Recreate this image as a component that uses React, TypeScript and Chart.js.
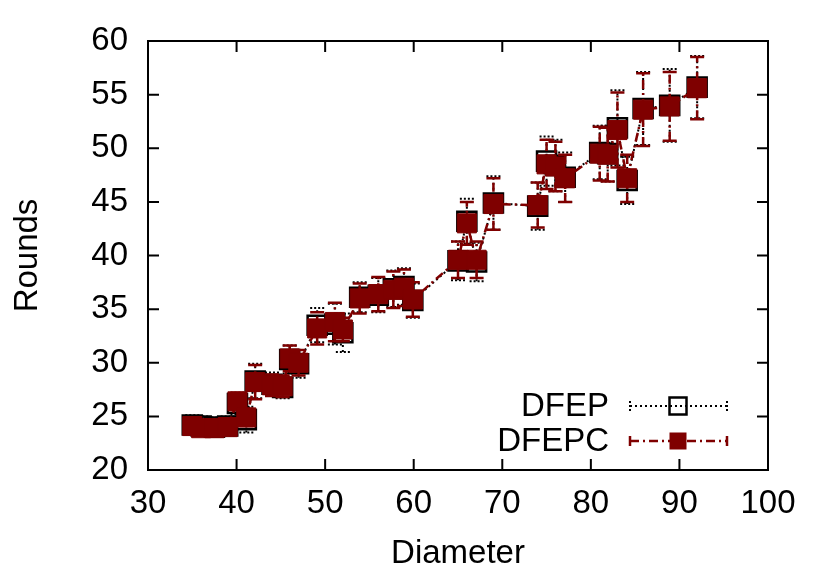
import React, { useEffect, useRef } from 'react';
import { Chart, registerables } from 'chart.js';

Chart.register(...registerables);

// ---- data ----
const diameters = [35, 36, 37.5, 39, 40.1, 41.1, 42.1, 44, 45.2, 46, 47, 49.1, 51.1, 52, 53.9, 56, 57.7, 58.9, 59.9, 65, 66, 67.1, 69, 74, 75, 76, 77.1, 81, 81.9, 83, 84.1, 85.9, 88.9, 92];

const dfepRounds = [24.2, 24.1, 24.0, 24.1, 26.2, 24.7, 28.3, 28.0, 27.7, 30.3, 29.9, 33.5, 33.6, 32.8, 36.1, 36.3, 36.9, 37.1, 35.8, 39.5, 43.2, 39.4, 44.9, 44.6, 48.8, 48.4, 47.3, 49.6, 49.5, 51.9, 47.0, 53.7, 54.0, 55.7];
const dfepErr = [0.9, 0.9, 0.9, 0.9, 1.0, 1.2, 1.6, 1.1, 1.0, 1.3, 1.3, 1.6, 1.9, 1.8, 1.4, 1.6, 1.7, 1.7, 1.6, 1.8, 2.1, 1.8, 2.5, 2.2, 2.3, 2.4, 2.3, 2.5, 2.6, 3.5, 2.2, 3.4, 3.4, 2.9];

const dfepcRounds = [24.1, 23.9, 23.9, 24.0, 26.4, 24.9, 28.2, 27.9, 27.8, 30.4, 30.0, 33.2, 33.8, 33.1, 36.0, 36.4, 36.8, 37.0, 35.9, 39.6, 43.0, 39.6, 44.8, 44.7, 48.5, 48.3, 47.2, 49.5, 49.4, 51.7, 47.2, 53.6, 53.9, 55.6];
const dfepcErr = [0.6, 0.5, 0.5, 0.6, 0.8, 0.8, 1.6, 1.0, 1.0, 1.2, 1.2, 1.5, 1.8, 1.1, 1.4, 1.6, 1.7, 1.7, 1.6, 1.7, 2.0, 1.7, 2.4, 2.1, 2.3, 2.3, 2.2, 2.5, 2.5, 3.5, 2.2, 3.4, 3.2, 2.9];

const xTicks = [30, 40, 50, 60, 70, 80, 90, 100];
const yTicks = [20, 25, 30, 35, 40, 45, 50, 55, 60];

const seriesLabels = ['DFEP', 'DFEPC'];

// ---- styles ----
const DARK_RED = '#7f0000';
const FONT = "'Liberation Sans', Arial, Helvetica, sans-serif";
const FONT_SIZE = 33;

type SeriesStyle = {
  color: string;
  lineDash: number[];
  lineWidth: number;
  filled: boolean;
};

const styles: Record<string, SeriesStyle> = {
  DFEP: { color: '#000000', lineDash: [2, 3], lineWidth: 2, filled: false },
  DFEPC: { color: DARK_RED, lineDash: [9, 4, 2, 4], lineWidth: 2.5, filled: true },
};

const errorsByLabel: Record<string, number[]> = {
  DFEP: dfepErr,
  DFEPC: dfepcErr,
};

const CAP = 7;

const errorBarPlugin = {
  id: 'errorBars',
  beforeDatasetDraw(chart: any, args: any) {
    const ds = chart.data.datasets[args.index];
    const errs = errorsByLabel[ds.label];
    const st = styles[ds.label];
    if (!errs || !st) return;
    const xs = chart.scales.x;
    const ys = chart.scales.y;
    const ctx = chart.ctx;
    ctx.save();
    ctx.strokeStyle = st.color;
    ctx.lineWidth = st.lineWidth;
    ds.data.forEach((p: any, i: number) => {
      const px = xs.getPixelForValue(p.x);
      const yl = ys.getPixelForValue(p.y - errs[i]);
      const yh = ys.getPixelForValue(p.y + errs[i]);
      ctx.setLineDash(st.lineDash);
      ctx.beginPath();
      ctx.moveTo(px, yl);
      ctx.lineTo(px, yh);
      ctx.stroke();
      ctx.setLineDash(st.filled ? [] : [2, 2]);
      ctx.beginPath();
      ctx.moveTo(px - CAP, yl);
      ctx.lineTo(px + CAP, yl);
      ctx.moveTo(px - CAP, yh);
      ctx.lineTo(px + CAP, yh);
      ctx.stroke();
    });
    ctx.restore();
  },
};

const framePlugin = {
  id: 'frame',
  beforeDatasetsDraw(chart: any) {
    const { ctx, chartArea: a } = chart;
    const xs = chart.scales.x;
    const ys = chart.scales.y;
    const T = 11;
    ctx.save();
    ctx.strokeStyle = '#000';
    ctx.lineWidth = 2;
    ctx.setLineDash([]);
    ctx.strokeRect(a.left, a.top, a.right - a.left, a.bottom - a.top);
    ctx.beginPath();
    xTicks.forEach((v) => {
      const px = xs.getPixelForValue(v);
      ctx.moveTo(px, a.bottom);
      ctx.lineTo(px, a.bottom - T);
      ctx.moveTo(px, a.top);
      ctx.lineTo(px, a.top + T);
    });
    yTicks.forEach((v) => {
      const py = ys.getPixelForValue(v);
      ctx.moveTo(a.left, py);
      ctx.lineTo(a.left + T, py);
      ctx.moveTo(a.right, py);
      ctx.lineTo(a.right - T, py);
    });
    ctx.stroke();
    ctx.restore();
  },
};

const legendPlugin = {
  id: 'gnuLegend',
  afterDraw(chart: any) {
    const ctx = chart.ctx;
    const textRight = 609;
    const x0 = 630;
    const x1 = 727;
    const xm = 678;
    const rows = [406, 441];
    ctx.save();
    ctx.font = `${FONT_SIZE}px ${FONT}`;
    ctx.textAlign = 'right';
    ctx.textBaseline = 'middle';
    seriesLabels.forEach((label, i) => {
      const st = styles[label];
      const y = rows[i];
      ctx.fillStyle = '#000';
      ctx.fillText(label, textRight, y + 1);
      ctx.strokeStyle = st.color;
      ctx.lineWidth = st.lineWidth;
      ctx.setLineDash(st.lineDash);
      ctx.beginPath();
      ctx.moveTo(x0, y);
      ctx.lineTo(x1, y);
      ctx.stroke();
      ctx.setLineDash(st.filled ? [] : [2, 2]);
      ctx.beginPath();
      ctx.moveTo(x0, y - 5);
      ctx.lineTo(x0, y + 5);
      ctx.moveTo(x1, y - 5);
      ctx.lineTo(x1, y + 5);
      ctx.stroke();
      ctx.setLineDash([]);
      const s = 17;
      if (st.filled) {
        ctx.fillStyle = st.color;
        ctx.fillRect(xm - s / 2, y - s / 2, s, s);
      } else {
        ctx.lineWidth = 2.5;
        ctx.strokeRect(xm - s / 2, y - s / 2, s, s);
      }
    });
    ctx.restore();
  },
};

export default function App() {
  const canvasRef = useRef<HTMLCanvasElement | null>(null);

  useEffect(() => {
    document.body.style.margin = '0';
    const canvas = canvasRef.current;
    if (!canvas) return;

    const makeData = (ys: number[]) => diameters.map((x, i) => ({ x, y: ys[i] }));

    const chart = new Chart(canvas, {
      type: 'scatter',
      data: {
        datasets: [
          {
            label: 'DFEP',
            data: makeData(dfepRounds),
            showLine: true,
            borderColor: styles.DFEP.color,
            borderWidth: styles.DFEP.lineWidth,
            borderDash: styles.DFEP.lineDash,
            pointStyle: 'rect',
            pointRadius: 13.5,
            pointBorderWidth: 2.5,
            pointBorderColor: '#000',
            pointBackgroundColor: 'rgba(0,0,0,0)',
            order: 2,
          } as any,
          {
            label: 'DFEPC',
            data: makeData(dfepcRounds),
            showLine: true,
            borderColor: styles.DFEPC.color,
            borderWidth: styles.DFEPC.lineWidth,
            borderDash: styles.DFEPC.lineDash,
            pointStyle: 'rect',
            pointRadius: 13.5,
            pointBorderWidth: 1,
            pointBorderColor: DARK_RED,
            pointBackgroundColor: DARK_RED,
            order: 1,
          } as any,
        ],
      },
      options: {
        responsive: false,
        animation: false,
        events: [],
        layout: { padding: { top: 41, right: 62, left: 0, bottom: 0 } },
        plugins: {
          legend: { display: false },
          tooltip: { enabled: false },
        },
        scales: {
          x: {
            type: 'linear',
            min: 30,
            max: 100,
            afterBuildTicks: (scale: any) => {
              scale.ticks = xTicks.map((v) => ({ value: v }));
            },
            afterFit: (scale: any) => {
              scale.height = 111;
            },
            grid: { display: false, drawTicks: false, tickLength: 0 },
            border: { display: false },
            ticks: {
              color: '#000',
              padding: 14,
              maxRotation: 0,
              autoSkip: false,
              font: { family: FONT, size: FONT_SIZE },
            },
            title: {
              display: true,
              text: 'Diameter',
              color: '#000',
              font: { family: FONT, size: FONT_SIZE },
              padding: { top: 0, bottom: 7 },
            },
          },
          y: {
            type: 'linear',
            min: 20,
            max: 60,
            afterBuildTicks: (scale: any) => {
              scale.ticks = yTicks.map((v) => ({ value: v }));
            },
            afterFit: (scale: any) => {
              scale.width = 148;
            },
            grid: { display: false, drawTicks: false, tickLength: 0 },
            border: { display: false },
            ticks: {
              color: '#000',
              padding: 20,
              autoSkip: false,
              font: { family: FONT, size: FONT_SIZE },
            },
            title: {
              display: true,
              text: 'Rounds',
              color: '#000',
              font: { family: FONT, size: FONT_SIZE },
              padding: { top: 8, bottom: 0 },
            },
          },
        },
      } as any,
      plugins: [framePlugin, errorBarPlugin, legendPlugin],
    });

    return () => {
      chart.destroy();
    };
  }, []);

  return (
    <div style={{ position: 'fixed', left: 0, top: 0, width: 830, height: 581, background: '#fff' }}>
      <canvas ref={canvasRef} width={830} height={581} style={{ display: 'block' }} />
    </div>
  );
}
